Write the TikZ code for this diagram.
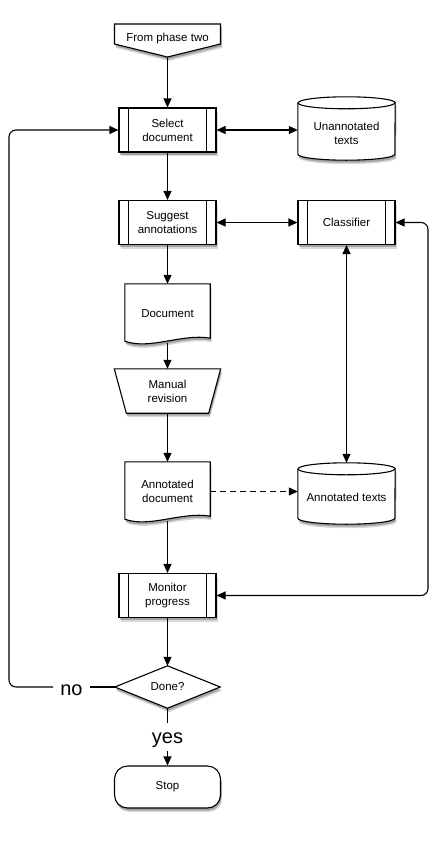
\documentclass[tikz,border=0pt]{standalone}
\usepackage{fontspec}
\setmainfont{Liberation Sans}
\usetikzlibrary{arrows.meta,shadows,calc}
\pgfdeclarelayer{bg}
\pgfsetlayers{bg,main}
\begin{document}
\begin{tikzpicture}[x=1pt,y=1pt,
 shp/.style={draw=black, line width=1.1pt, fill=white,
   drop shadow={shadow xshift=1.5pt, shadow yshift=-4pt, opacity=.15, fill=black},
   drop shadow={shadow xshift=1pt, shadow yshift=-2.5pt, opacity=.25, fill=black}},
 txt/.style={font=\fontsize{11.5}{14}\selectfont, align=center, inner sep=0pt},
 proc/.style={shp, txt, minimum width=97pt, minimum height=44pt,
   append after command={
     ([xshift=10pt]\tikzlastnode.north west) edge[line width=1pt] ([xshift=10pt]\tikzlastnode.south west)
     ([xshift=-10pt]\tikzlastnode.north east) edge[line width=1pt] ([xshift=-10pt]\tikzlastnode.south east)}},
 conn/.style={line width=1.1pt},
 arr/.style={conn, -{Triangle[length=9pt,width=8pt]}},
 darr/.style={conn, {Triangle[length=9pt,width=8pt]}-{Triangle[length=9pt,width=8pt]}},
 lbl/.style={font=\fontsize{20}{24}\selectfont, inner sep=0pt}]
\useasboundingbox (0,0) rectangle (438,-857);

% nodes
\node[txt, anchor=base] (start) at (167.5,-41) {From phase two};
\coordinate (startS) at (167.5,-57);
\node[proc] (sel) at (167.5,-130) {Select\\document};
\node[txt, minimum width=97pt, minimum height=63pt] (unann) at (346.5,-128.5) {};
\node[txt] (unannT) at (346.5,-133) {Unannotated\\texts};
\node[proc] (sug) at (167.5,-222.5) {Suggest\\annotations};
\node[proc] (cls) at (346.5,-222.5) {Classifier};
\node[txt, minimum width=85pt, minimum height=59pt] (doc) at (167.5,-313.5) {Document};
\node[txt, minimum width=106pt, minimum height=44pt] (man) at (167.5,-391) {Manual\\revision};
\node[txt, minimum width=85pt, minimum height=59pt] (anndoc) at (167.5,-491.5) {Annotated\\document};
\node[txt, minimum width=97pt, minimum height=61pt] (anntx) at (346.5,-493.5) {};
\node[txt, anchor=base] (anntxT) at (346.5,-501.5) {Annotated texts};
\node[proc] (mon) at (167.5,-595.5) {Monitor\\progress};
\node[txt, minimum width=105pt, minimum height=42pt] (done) at (167.5,-687) {Done?};
\node[lbl, anchor=base, inner xsep=7pt] (no) at (71.5,-695) {no};
\node[lbl, anchor=base] (yes) at (167.5,-743) {yes};
\node[shp, txt, rounded corners=13pt, minimum width=106pt, minimum height=42pt] (stop) at (167.5,-787) {Stop};
\coordinate (leftc) at (9,0);
\coordinate (rightc) at (428,0);

% shapes behind text
\begin{pgfonlayer}{bg}
\draw[shp] (114.5,-24) -- (220.5,-24) -- (220.5,-44) -- (startS) -- (114.5,-44) -- cycle;
\draw[shp] ($(unann.north west)+(0,-6)$) -- ($(unann.south west)+(0,6)$)
  arc[start angle=180, end angle=360, x radius=48.5, y radius=6]
  -- ($(unann.north east)+(0,-6)$)
  arc[start angle=0, end angle=180, x radius=48.5, y radius=6] -- cycle;
\draw[line width=1.1pt] ($(unann.north west)+(0,-6)$) arc[start angle=180, end angle=360, x radius=48.5, y radius=6];
\draw[shp] (doc.north west) -- (doc.north east) -- ($(doc.south east)+(0,5)$)
  .. controls ($(doc.south east)+(-28,10)$) and ($(doc.south west)+(25,-7)$) .. ($(doc.south west)+(0,2)$) -- cycle;
\draw[shp] (man.north west) -- (man.north east) -- ($(man.south east)+(-12,0)$) -- ($(man.south west)+(12,0)$) -- cycle;
\draw[shp] (anndoc.north west) -- (anndoc.north east) -- ($(anndoc.south east)+(0,5)$)
  .. controls ($(anndoc.south east)+(-28,10)$) and ($(anndoc.south west)+(25,-7)$) .. ($(anndoc.south west)+(0,2)$) -- cycle;
\draw[shp] ($(anntx.north west)+(0,-6)$) -- ($(anntx.south west)+(0,6)$)
  arc[start angle=180, end angle=360, x radius=48.5, y radius=6]
  -- ($(anntx.north east)+(0,-6)$)
  arc[start angle=0, end angle=180, x radius=48.5, y radius=6] -- cycle;
\draw[line width=1.1pt] ($(anntx.north west)+(0,-6)$) arc[start angle=180, end angle=360, x radius=48.5, y radius=6];
\draw[shp] (done.north) -- (done.east) -- (done.south) -- (done.west) -- cycle;
\end{pgfonlayer}

% connectors
\draw[arr] (startS) -- (sel.north);
\draw[arr] (sel.south) -- (sug.north);
\draw[arr] (sug.south) -- (doc.north);
\draw[arr] (doc.south) -- (man.north);
\draw[arr] (man.south) -- (anndoc.north);
\draw[arr] (anndoc.south) -- (mon.north);
\draw[arr] (mon.south) -- (done.north);
\draw[conn] (done.south) -- ([yshift=9pt]yes.north);
\draw[arr] ([yshift=-4pt]yes.south) -- (stop.north);
\draw[conn] (done.west) -- (done.west -| no.east);
\draw[arr, rounded corners=7pt] (done.west -| no.west) -| (leftc |- sel.west) -- (sel.west);
\draw[darr] (sel.east) -- (sel.east -| unann.west);
\draw[darr] (sug.east) -- (cls.west);
\draw[darr] (cls.south) -- (anntx.north);
\draw[arr, dash pattern=on 6pt off 4pt] (anndoc.east) -- (anndoc.east -| anntx.west);
\draw[darr, rounded corners=7pt] (mon.east) -| (rightc |- cls.east) -- (cls.east);
\end{tikzpicture}
\end{document}
